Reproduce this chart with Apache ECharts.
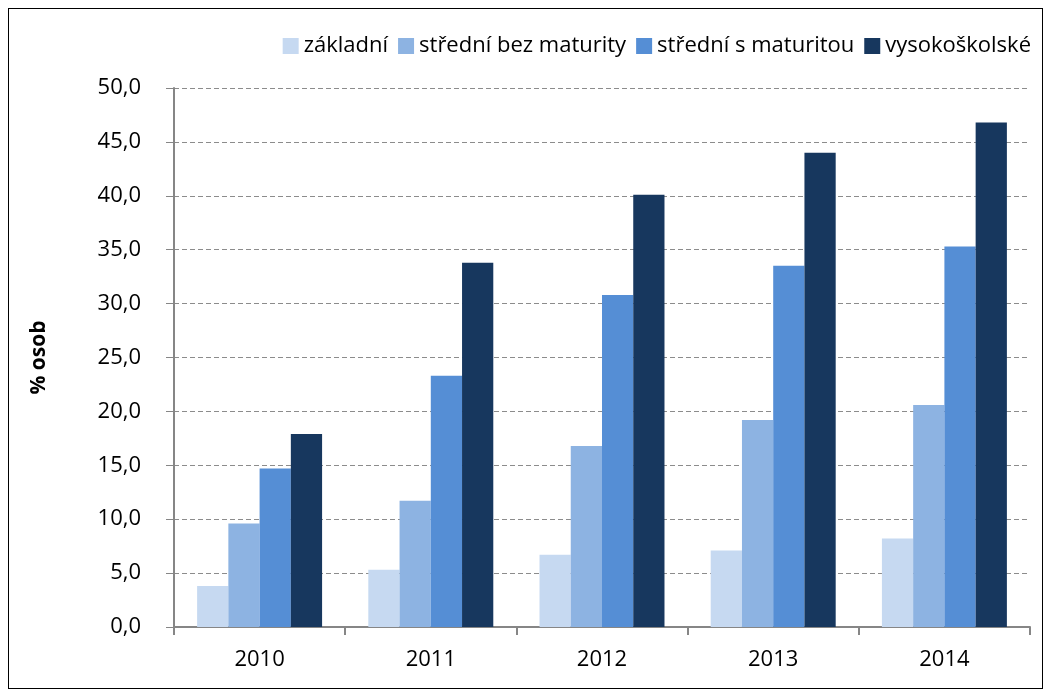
<!DOCTYPE html>
<html>
<head>
<meta charset="utf-8">
<script src="https://cdn.jsdelivr.net/npm/echarts@6/dist/echarts.min.js"></script>
<style>
  html, body { margin: 0; padding: 0; background: #fff; }
  #frame {
    position: absolute;
    left: 8px; top: 8px;
    width: 1033px; height: 679px;
    border: 1px solid #000;
  }
  #chart { position: absolute; left: 0; top: 0; width: 1050px; height: 697px; }
</style>
</head>
<body>
<div id="frame"></div>
<div id="chart"></div>
<script>
const years = ['2010', '2011', '2012', '2013', '2014']
const seriesNames = ['základní', 'střední bez maturity', 'střední s maturitou', 'vysokoškolské']
const zakladni = [3.8, 5.3, 6.7, 7.1, 8.2]
const stredniBez = [9.6, 11.7, 16.8, 19.2, 20.6]
const stredniS = [14.7, 23.3, 30.8, 33.5, 35.3]
const vysokoskolske = [17.9, 33.8, 40.1, 44.0, 46.8]
const colors = ['#C6D9F1', '#8DB3E2', '#558ED5', '#17375E']

const font = 'Open Sans, sans-serif'
const chart = echarts.init(document.getElementById('chart'))

const values = [zakladni, stredniBez, stredniS, vysokoskolske]

chart.setOption({
  backgroundColor: 'transparent',
  animation: false,
  color: colors,
  textStyle: { fontFamily: font },
  legend: {
    right: 14,
    top: 30,
    itemWidth: 16,
    itemHeight: 16,
    itemGap: 10,
    icon: 'rect',
    textStyle: { fontSize: 22, color: '#000', fontFamily: font },
    data: seriesNames
  },
  grid: {
    left: 174,
    right: 20,
    top: 88,
    bottom: 70,
    containLabel: false
  },
  xAxis: {
    type: 'category',
    data: years,
    axisLine: { lineStyle: { color: '#868686', width: 2 } },
    axisTick: { show: true, length: 8, lineStyle: { color: '#868686', width: 2 } },
    axisLabel: { color: '#000', fontSize: 22, margin: 22, fontFamily: font }
  },
  yAxis: {
    type: 'value',
    min: 0,
    max: 50,
    interval: 5,
    name: '% osob',
    nameLocation: 'middle',
    nameGap: 124,
    nameRotate: 90,
    nameTextStyle: { fontSize: 21, fontWeight: 'bold', color: '#000', fontFamily: font },
    axisLine: { show: true, lineStyle: { color: '#868686', width: 2 } },
    axisTick: { show: true, inside: false, length: 8, lineStyle: { color: '#868686', width: 1 } },
    axisLabel: {
      color: '#000',
      fontSize: 22,
      margin: 33,
      fontFamily: font,
      formatter: (v) => v.toFixed(1).replace('.', ',')
    },
    splitLine: { lineStyle: { color: '#8c8c8c', type: [5, 3], width: 1 } }
  },
  series: seriesNames.map((name, i) => ({
    name: name,
    type: 'bar',
    data: values[i],
    barGap: '0%',
    barCategoryGap: '27%',
    itemStyle: { color: colors[i] }
  }))
})
</script>
</body>
</html>
